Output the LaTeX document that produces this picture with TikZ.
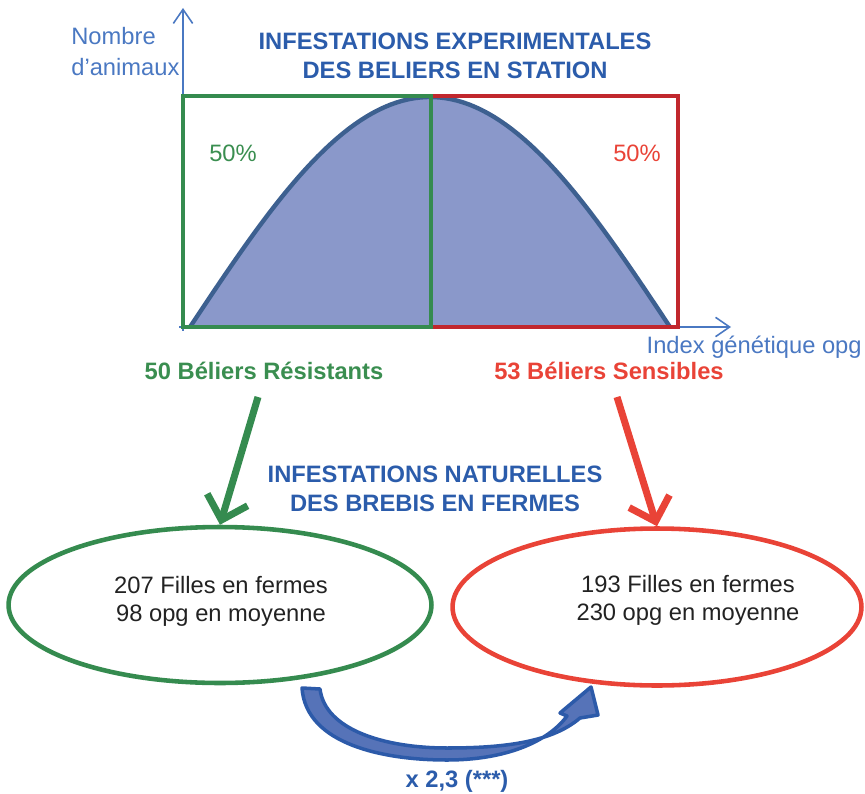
\documentclass[tikz,border=0pt]{standalone}
\usepackage{fontspec}
\setmainfont{Liberation Sans}
\usetikzlibrary{shapes.geometric,arrows.meta}

\definecolor{bleutitre}{HTML}{2B5CAB}
\definecolor{bleuaxe}{HTML}{4A78C2}
\definecolor{vertrect}{HTML}{358B4F}
\definecolor{rougerect}{HTML}{C1272D}
\definecolor{verttexte}{HTML}{3A8E50}
\definecolor{rougetexte}{HTML}{E94337}
\definecolor{remplissage}{HTML}{8A98CA}
\definecolor{courbe}{HTML}{3D6090}
\definecolor{flecheint}{HTML}{5673B8}
\definecolor{flecheext}{HTML}{2C5AA9}
\definecolor{gristexte}{HTML}{222222}

\begin{document}
\begin{tikzpicture}[x=0.02cm,y=-0.02cm,
  txt/.style={font=\fontsize{13.5}{15.8}\selectfont,inner sep=0pt,align=center},
  gras/.style={txt,font=\fontsize{13.5}{16.5}\selectfont\bfseries},
  axe/.style={bleuaxe,line width=0.9pt,-{Straight Barb[length=8pt,width=11pt]}},
  grossefleche/.style={line width=4pt,-{Straight Barb[length=12pt,width=24pt]}},
  ovale/.style={ellipse,draw,line width=2.6pt,inner sep=0pt}]
  \useasboundingbox (0,0) rectangle (865,794);

  \node[gras,bleutitre] (titreStation) at (455,56) {INFESTATIONS EXPERIMENTALES\\DES BELIERS EN STATION};
  \node[txt,bleuaxe,anchor=west] (nombre) at (71,36) {Nombre};
  \node[txt,bleuaxe,anchor=west] (animaux) at (71,67) {d’animaux};
  \node[txt,bleuaxe,anchor=east] (index) at (862,347) {Index génétique opg};

  \coordinate (origine) at (183,327);
  \coordinate (hautY) at (183,8);
  \coordinate (finX) at (731,327);

  \fill[remplissage] plot[domain=0:180,samples=80] ({190+\x*8/3},{327-230*sin(\x)}) -- cycle;
  \draw[courbe,line width=2.5pt] plot[domain=0:180,samples=80] ({190+\x*8/3},{327-230*sin(\x)});

  \draw[axe] ([yshift=-2pt]origine) -- (hautY);
  \draw[axe] ([xshift=-2pt]origine) -- (finX);

  \draw[rougerect,line width=2.6pt] (431,96) rectangle (678,327);
  \draw[vertrect,line width=2.6pt] (183,96) rectangle (431,327);

  \node[txt,verttexte] (pctR) at (233,153) {50\%};
  \node[txt,rougetexte] (pctS) at (637,153) {50\%};

  \node[gras,verttexte] (belR) at (264,371) {50 Béliers Résistants};
  \node[gras,rougetexte] (belS) at (609,371) {53 Béliers Sensibles};

  \node[gras,bleutitre] (titreFermes) at (435,489) {INFESTATIONS NATURELLES\\DES BREBIS EN FERMES};

  \node[ovale,vertrect,minimum width=8.46cm,minimum height=3.12cm] (ellR) at (220,605) {};
  \node[ovale,rougetexte,minimum width=8.18cm,minimum height=3.14cm] (ellS) at (657,607) {};

  \node[txt,gristexte] (fillesR) at (221,601) {207 Filles en fermes\\98 opg en moyenne};
  \node[txt,gristexte] (fillesS) at (688,600) {193 Filles en fermes\\230 opg en moyenne};

  \coordinate (depR) at (258,397);
  \coordinate (depS) at (617,397);
  \draw[grossefleche,vertrect] (depR) -- (ellR.north);
  \draw[grossefleche,rougetexte] (depS) -- (ellS.north);

  \coordinate (queue) at (302,688);
  \coordinate (pointe) at (591,687);
  \filldraw[flecheint,draw=flecheext,line width=2pt,line join=round]
    (queue) .. controls (306,745) and (385,760) .. (447,760)
    .. controls (505,760) and (548,742) .. (567,716)
    -- (560,713) -- (pointe) -- (598,715) -- (580,718)
    .. controls (552,742) and (505,748) .. (447,748)
    .. controls (385,748) and (325,730) .. (320,689) -- cycle;

  \node[gras,bleutitre] (ratio) at (457,781) {x 2,3 (***)};
\end{tikzpicture}
\end{document}
